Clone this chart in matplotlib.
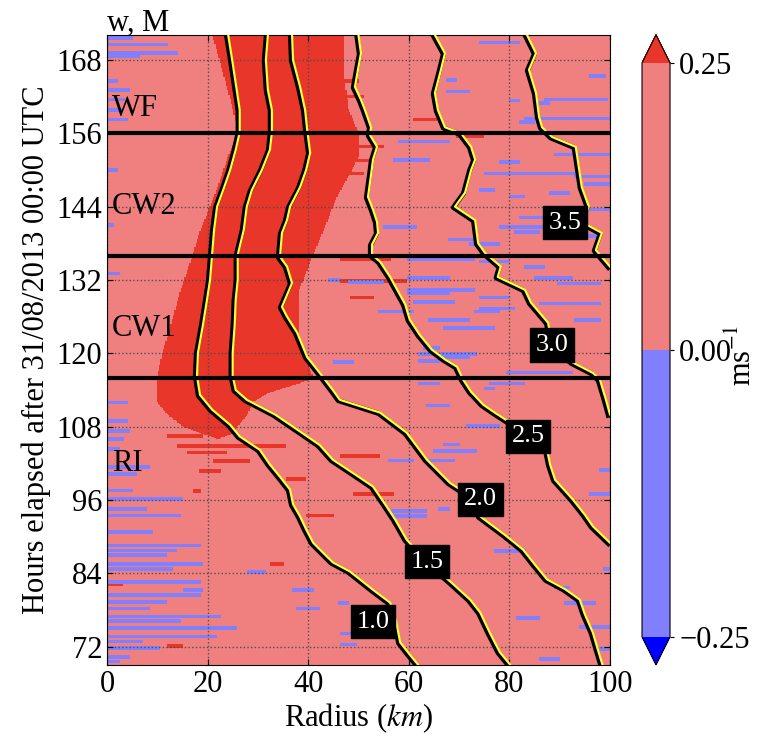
import matplotlib
matplotlib.use('Agg')
import matplotlib.pyplot as plt
import matplotlib.patheffects as pe
from matplotlib.colors import ListedColormap, BoundaryNorm
import numpy as np

plt.rcParams['font.family'] = ['Liberation Serif', 'DejaVu Serif']
plt.rcParams['mathtext.fontset'] = 'stix'

# --- data ----------------------------------------------------------------
# Angular momentum contours (radius in km along each hour), top to bottom
m_levels = ['1.0', '1.5', '2.0', '2.5', '3.0', '3.5']

m10_hours = [172.1, 168, 163.1, 159.8, 156.2, 153.3, 150, 146.7, 144, 140.2,
             136.1, 132, 128.8, 124.7, 120.1, 116.3, 113.2, 110.8, 108.3,
             106.4, 104.2, 101.8, 99.8, 97.7, 95.3, 93.3, 91.2, 89, 87.1,
             85.8, 84.3, 83, 81.3, 79.2, 76.1, 72.7, 70.7, 69.1]
m10_radius = [24.1, 24.9, 25.8, 26.4, 26.4, 25.6, 24.5, 23.1, 21.9, 21.3,
              20.9, 20.5, 19.9, 19.1, 18.1, 17.9, 18.5, 20.9, 24.5, 26.4,
              30.4, 32.4, 34.4, 36.4, 37, 38.4, 39.6, 41, 43.3, 44.9, 48.3,
              50.3, 52.9, 56.3, 57.5, 58.3, 60.2, 61.8]

m15_hours = [172.1, 168, 163.1, 159.8, 156.2, 153.3, 150, 146.7, 144, 140.2,
             136.1, 132, 128.8, 124.7, 120.1, 116.3, 114, 112.4, 110, 107.2,
             105, 102.6, 100.2, 98.2, 95.3, 92.8, 89.5, 85.9, 82.7, 79.7,
             77.6, 74.3, 71.1, 69.1]
m15_radius = [32, 31.6, 32, 32.8, 32.8, 32.4, 30.8, 28.8, 27.8, 27.2, 26, 26,
              25.6, 25.4, 25, 25, 25.6, 27.8, 33.4, 38.4, 42.3, 44.9, 49.3,
              52.9, 55.3, 57.3, 59.6, 63.6, 68.2, 72.2, 74.2, 76.1, 78.1, 80.1]

m20_hours = [172.1, 168, 163.6, 159.8, 156.6, 152.8, 150, 147.2, 144, 141.8,
             139.7, 135.8, 134.2, 131.5, 127.6, 126, 123.4, 119.4, 116.8, 114,
             112.4, 110.3, 107, 102.6, 98.8, 96.1, 93.3, 90.3, 87.9, 85.4, 83,
             81.4, 79.7, 77.3, 74.3, 71.5, 68.8]
m20_radius = [36.8, 37, 38.4, 39.4, 39.8, 40.4, 39.6, 38.4, 36.4, 35.8, 34.8,
              34.4, 35.8, 36.8, 34.8, 35.8, 37.8, 39.8, 42.3, 44.9, 46.3, 54.3,
              59.6, 63.6, 68.2, 73.2, 74.2, 79.1, 82.7, 85.1, 87.5, 91.1, 94,
              95, 96.6, 97.6, 98.6]

m25_hours = [172.1, 169.1, 166.4, 163.6, 161.5, 159.8, 157, 155.7, 153.8,
             151.7, 149.2, 145.6, 143.5, 141.5, 139.7, 137.8, 136.1, 135,
             132.5, 130.4, 128, 125.5, 123, 120.6, 119, 117.8, 115.7, 113.7,
             111.6, 110.3, 108.7, 106.4, 104.2, 101.8, 99.3, 96.1, 93.6, 91.7,
             89]
m25_radius = [50, 50.5, 49.9, 49.3, 50.5, 51.3, 52.5, 52.3, 53.7, 52.9, 52.5,
              51.9, 52.9, 53.7, 53.9, 52.7, 52.7, 54.3, 56.3, 57.7, 59.3, 60.2,
              62.2, 64.6, 67.2, 69.6, 70.8, 72.4, 74.8, 77.1, 80.1, 83.7, 87.5,
              88.1, 89.1, 92.6, 95, 96.6, 100]

m30_hours = [172.1, 169.1, 166.4, 162.6, 159.8, 157, 156, 153.8, 151.7, 150,
             146.3, 144, 141.8, 138, 136.4, 134.2, 132.5, 130.4, 128.3, 125,
             121.4, 118.5, 116.8, 115.7, 112.4, 110]
m30_radius = [65.2, 67.2, 66.4, 65.2, 65.8, 67.2, 70.4, 72.4, 73.2, 72.4,
              71.2, 69.2, 73.2, 73.8, 75.2, 78.3, 77.7, 83.1, 84.3, 87.7, 88.5,
              92.6, 96.6, 98, 99.2, 100]

m35_hours = [172.1, 169.1, 166.4, 162.6, 158.7, 157, 155.4, 153.8, 150.5,
             147.2, 144, 141.4, 139.7, 136.9, 134.2]
m35_radius = [83.5, 85.3, 83.9, 85.3, 85.9, 86.5, 88.5, 93.2, 93.8, 94.4,
              95.8, 94.6, 98.4, 97.2, 100]

label_radius = [52.9, 63.6, 74.2, 83.7, 88.5, 91.1]
label_hours = [76.1, 85.9, 96.1, 106.4, 121.4, 141.4]

# Strong updraught band (w > 0.25): inner and outer edge per hour
band_hours = [106, 106.8, 108, 110, 112, 113.5, 115, 116, 120, 124, 130, 136,
              140, 142, 146, 152, 156, 160, 166, 172.1]
band_inner = [22, 19, 15, 12, 10, 10, 10, 10, 11, 12.5, 14.5, 17, 18.5, 19.5,
              21.5, 24, 26, 25, 23, 21]
band_outer = [22, 25, 26, 28, 29, 32, 38, 41, 39, 38, 38, 41, 43, 44, 46, 50,
              50, 48, 47, 47]

# Downdraught streaks (w < 0): hour, start radius, end radius
blue_hours = [171.6, 170.5, 169.1, 168.5, 164.5, 163, 161.5, 159.8, 158.2, 156,
              150, 141, 133,
              170.8, 165.3, 164.7, 162.8, 161.5, 161.3, 160.9, 158.4, 157.8,
              154.6, 152.5, 151.6, 151.3, 149.4, 148.9, 147.7, 146.7, 146.2,
              145.6,
              143.5, 142.2, 140.6, 140.6, 139.8, 139.1, 138.6, 137.8, 135.3,
              135, 134.1, 132.3, 132.3, 131.6, 131.4, 130.3, 129.8, 129.1,
              128.4, 128.1, 127.3, 126.8, 126.8, 125.4, 125.4, 124.1, 120.8,
              119.8, 119.3, 118.7, 116.8, 116, 116, 115, 115, 114.2, 132, 118.5,
              111.4, 108, 105, 104, 102.4, 102.4, 100.8, 96.9, 94.5, 94.1, 93.3,
              87.6, 84.6, 81.6, 79.1, 79.1, 76.6, 75.2, 74.1, 72.3, 71.6, 69.9,
              111.9, 108.9, 107.2, 105.9, 104.3, 101.3, 100.2, 97.5, 96.1, 94.5,
              93.4, 90.7, 88.5, 87.7, 86.9, 85.5, 84.7, 84.2, 82.5, 81.2, 81.2,
              80.4, 79.3, 78.2, 78.2, 76.9, 76.1, 75, 73.6, 72.8, 71.7, 70.3,
              69.5]
blue_r0 = [0, 0, 0, 0, 0, 0, 0, 0, 0, 0, 0, 0, 0,
           74, 96, 67.5, 67.5, 87, 80, 85, 83, 82, 58, 89, 57, 78, 75, 93, 95,
           74, 88, 80,
           95, 82, 55, 78, 81, 92.7, 68, 72, 59.6, 74, 83, 59.6, 85, 48, 89.4,
           59.6, 59.6, 74, 61, 86, 74, 54, 73, 64, 93, 67, 63, 62, 67, 62,
           79.4, 55, 83, 62, 76, 75, 44, 45,
           63.5, 71.5, 67, 65, 56, 63, 98, 96, 66, 56.3, 57, 77, 98.7, 89, 46,
           91, 81.5, 94, 46.3, 46.3, 98, 86,
           0, 0, 0, 0, 0, 0, 0, 0, 0, 0, 0, 0, 0, 0, 0, 0, 0, 27.8, 0, 15.2,
           37, 0, 0, 0, 37.7, 0, 0, 0, 0, 0, 0, 0, 0]
blue_r1 = [5, 12, 14, 6.5, 2, 4.5, 3.5, 3, 4, 3, 2, 1.3, 2.5,
           82, 99, 69.5, 72, 99.5, 82, 88, 100, 85, 68, 100, 64, 82, 93, 100,
           100, 77, 92, 83,
           100, 87.5, 61.6, 87.5, 86, 98, 73, 78, 73, 80, 87, 68, 92.7, 55, 98,
           73, 68, 80, 69, 98, 81, 61, 78, 72, 98, 77, 66, 73.5, 72, 66, 92.7,
           63, 91, 66, 83, 77, 46.3, 49,
           68.2, 78.1, 70, 73.5, 61, 69, 100, 100, 68, 63.6, 63.6, 83.4, 100,
           92, 48, 97, 86.1, 100, 49, 49.5, 100, 90,
           4, 4, 4.6, 3.3, 2.6, 8.5, 5.9, 5.2, 15.2, 7.9, 14.5, 9.2, 18.5, 13.8,
           11.9, 19.1, 13.2, 31.7, 18.5, 19.1, 41, 18.5, 11.9, 8.5, 42.3, 22.5,
           14.5, 25.8, 21.8, 7.2, 10.5, 4.6, 2.6]

# Isolated strong updraught streaks (w > 0.25)
red_hours = [106.4, 104.8, 103.7, 102.3, 100.7, 99.4, 97.4, 93.4, 85.5, 82.2,
             72.1, 103.1, 96.9, 135.3, 131.8, 129.1, 158.2, 155.5, 153.8,
             151.5, 149.4, 162, 164.5]
red_r0 = [11.9, 13.8, 15.8, 21.1, 18.5, 35.7, 17.2, 39.7, 32.4, 0, 11.9, 46.3,
          49, 46.3, 46.3, 48.3, 60.9, 69.5, 46.3, 46, 46, 47, 47]
red_r1 = [19.1, 35.7, 23.8, 28.4, 22.5, 39.7, 18.5, 45, 35, 3.2, 15.2, 54.3,
          57, 56.3, 59.6, 53, 65.6, 74.8, 55, 52, 51, 51, 50]

phase_names = ['WF', 'CW2', 'CW1', 'RI']
phase_hours = [160, 144, 124, 102]
phase_bounds = [156, 136, 116]

cbar_ticks = [-0.25, 0.0, 0.25]

# --- build w field on a grid ----------------------------------------------
hours = np.arange(69, 172.2, 0.1)
radius = np.arange(0, 100.25, 0.25)
R, H = np.meshgrid(radius, hours)

w = np.full(R.shape, 0.1)
r_in = np.interp(hours, band_hours, band_inner)[:, None]
r_out = np.interp(hours, band_hours, band_outer)[:, None]
w[(R >= r_in) & (R <= r_out) & (H >= band_hours[0])] = 0.5
for h, a, b in zip(red_hours, red_r0, red_r1):
    w[(np.abs(H - h) <= 0.3) & (R >= a) & (R <= b)] = 0.5
for h, a, b in zip(blue_hours, blue_r0, blue_r1):
    w[(np.abs(H - h) <= 0.3) & (R >= a) & (R <= b)] = -0.1

cmap = ListedColormap(['#8080ff', '#f08080'])
cmap.set_over('#e9362a')
cmap.set_under('#0000ff')
norm = BoundaryNorm(cbar_ticks, cmap.N)

# --- figure -----------------------------------------------------------------
fig = plt.figure(figsize=(7.57, 7.40), dpi=100)
ax = fig.add_axes([0.1413, 0.1014, 0.6645, 0.8514])
cax = fig.add_axes([0.8481, 0.1014, 0.037, 0.8514])

mesh = ax.pcolormesh(radius, hours, w, cmap=cmap, norm=norm,
                     shading='nearest', rasterized=True, zorder=0)

m_hours = [m10_hours, m15_hours, m20_hours, m25_hours, m30_hours, m35_hours]
m_radius = [m10_radius, m15_radius, m20_radius, m25_radius, m30_radius,
            m35_radius]
for hrs, rad in zip(m_hours, m_radius):
    ax.plot(rad, hrs, color='#ffff3a', lw=1.6, zorder=4,
            path_effects=[pe.Stroke(linewidth=3.6, foreground='k',
                                    offset=(-1.2, -0.6)),
                          pe.Normal()])

for txt, r, h in zip(m_levels, label_radius, label_hours):
    ax.text(r, h, txt, color='w', fontsize=19, ha='center', va='center',
            zorder=6, bbox=dict(boxstyle='square,pad=0.22', fc='k', ec='k'))

for h in phase_bounds:
    ax.axhline(h, color='k', lw=3, zorder=5)
for name, h in zip(phase_names, phase_hours):
    ax.text(1, h, name, fontsize=22, ha='left', va='center', zorder=7)

ax.set_xlim(0, 100)
ax.set_ylim(69, 172.1)
ax.set_xticks(range(0, 101, 20))
ax.set_yticks(range(72, 169, 12))
ax.tick_params(direction='in', labelsize=22, top=True, right=True, length=4)
ax.grid(True, ls=':', color='0.3', lw=1)
ax.set_xlabel('Radius ($km$)', fontsize=22, labelpad=2)
ax.set_ylabel('Hours elapsed after 31/08/2013 00:00 UTC', fontsize=22,
              labelpad=4)
ax.set_title('w, M', loc='left', fontsize=22, pad=3)

cb = fig.colorbar(mesh, cax=cax, extend='both', extendfrac=28 / 574,
                  ticks=cbar_ticks)
cb.set_ticklabels([f'{t:.2f}'.replace('-', '\u2212') for t in cbar_ticks])
cb.ax.tick_params(labelsize=22, length=3)
cb.set_label('ms$^{-1}$', fontsize=22)
cb.ax.yaxis.set_label_coords(3.05, 0.49)

fig.savefig('out.png', dpi=100)
